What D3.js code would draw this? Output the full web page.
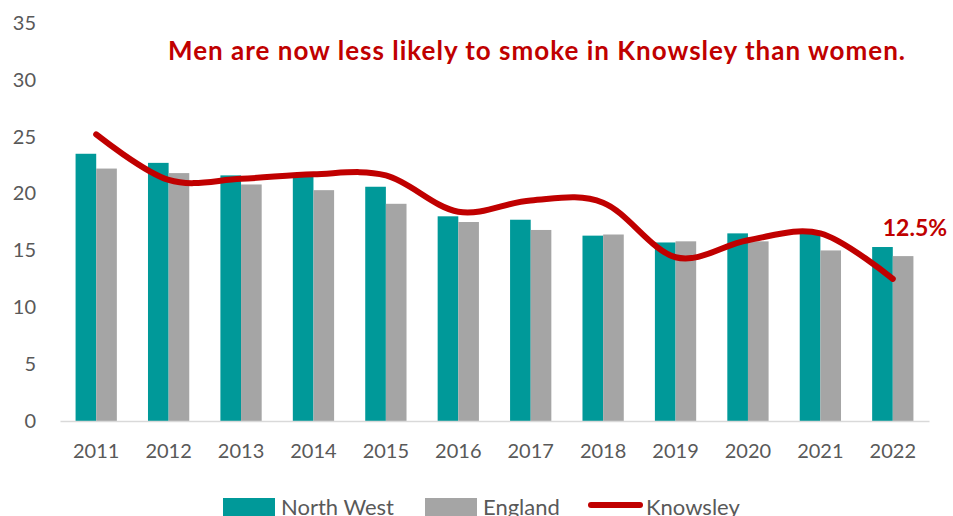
<!DOCTYPE html>
<html>
<head>
<meta charset="utf-8">
<script src="https://cdn.jsdelivr.net/npm/d3@7/dist/d3.min.js"></script>
<style>
  html, body { margin: 0; padding: 0; background: #fff; }
  svg { display: block; }
</style>
</head>
<body>
<svg id="chart" width="953" height="516"></svg>
<script>
// Smoking prevalence (%) by year
const years = ["2011","2012","2013","2014","2015","2016","2017","2018","2019","2020","2021","2022"];
const northWest = [23.5, 22.7, 21.6, 21.8, 20.6, 18.0, 17.7, 16.3, 15.7, 16.5, 16.5, 15.3];
const england   = [22.2, 21.8, 20.8, 20.3, 19.1, 17.5, 16.8, 16.4, 15.8, 15.8, 15.0, 14.5];
const knowsley  = [25.2, 21.2, 21.3, 21.7, 21.6, 18.4, 19.4, 19.2, 14.4, 15.9, 16.5, 12.5];
const yTicks = [0, 5, 10, 15, 20, 25, 30, 35];
const seriesNames = ["North West", "England", "Knowsley"];
const title = "Men are now less likely to smoke in Knowsley than women.";

const colors = { nw: "#009999", eng: "#A5A5A5", kn: "#C00000", text: "#595959", axis: "#D9D9D9" };
const font = "Lato, 'Open Sans', sans-serif";

const svg = d3.select("#chart");
const plot = { left: 60, right: 929, top: 23, bottom: 421 };

const x = d3.scaleBand().domain(years).range([plot.left, plot.right]).paddingInner(0.43).paddingOuter(0.215);
const xs = d3.scaleBand().domain(["nw", "eng"]).range([0, x.bandwidth()]);
const y = d3.scaleLinear().domain([0, 35]).range([plot.bottom, plot.top]);

// Y axis labels (no line, no gridlines)
const yAxis = d3.axisLeft(y).tickValues(yTicks).tickSize(0).tickPadding(0);
svg.append("g")
  .attr("transform", `translate(36,0)`)
  .call(yAxis)
  .call(g => g.select(".domain").remove())
  .call(g => g.selectAll("text").attr("fill", colors.text).style("font-family", font).style("font-size", "20px"));

// Bars
const groups = svg.append("g").selectAll("g").data(years).join("g")
  .attr("transform", d => `translate(${x(d)},0)`);

groups.append("rect")
  .attr("x", xs("nw")).attr("width", xs.bandwidth())
  .attr("y", (d, i) => y(northWest[i]))
  .attr("height", (d, i) => y(0) - y(northWest[i]))
  .attr("fill", colors.nw);

groups.append("rect")
  .attr("x", xs("eng")).attr("width", xs.bandwidth())
  .attr("y", (d, i) => y(england[i]))
  .attr("height", (d, i) => y(0) - y(england[i]))
  .attr("fill", colors.eng);

// X axis
const xAxis = d3.axisBottom(x).tickSize(0).tickPadding(23);
svg.append("g")
  .attr("transform", `translate(0,${plot.bottom})`)
  .call(xAxis)
  .call(g => g.select(".domain").attr("stroke", colors.axis).attr("stroke-width", 1.5))
  .call(g => g.selectAll("text").attr("fill", colors.text).style("font-family", font).style("font-size", "20px"));

// Knowsley smoothed line
const line = d3.line()
  .x((d, i) => x(years[i]) + x.bandwidth() / 2)
  .y(d => y(d))
  .curve(d3.curveCardinal.tension(0));

svg.append("path")
  .datum(knowsley)
  .attr("d", line)
  .attr("fill", "none")
  .attr("stroke", colors.kn)
  .attr("stroke-width", 6)
  .attr("stroke-linecap", "round")
  .attr("stroke-linejoin", "round");

// Final value label
const lastIdx = knowsley.length - 1;
svg.append("text")
  .attr("x", x(years[lastIdx]) + x.bandwidth() / 2 - 10)
  .attr("y", y(knowsley[lastIdx]) - 43)
  .attr("fill", colors.kn)
  .style("font-family", font)
  .style("font-size", "23px")
  .style("font-weight", "bold")
  .text(d3.format(".1f")(knowsley[lastIdx]) + "%");

// Title
svg.append("text")
  .attr("x", 168)
  .attr("y", 60)
  .attr("textLength", 737)
  .attr("lengthAdjust", "spacing")
  .attr("fill", colors.kn)
  .style("font-family", font)
  .style("font-size", "26px")
  .style("font-weight", "bold")
  .text(title);

// Legend
const legend = svg.append("g").attr("transform", "translate(0,507)");
const leg = [
  { name: seriesNames[0], type: "rect", color: colors.nw, x: 223 },
  { name: seriesNames[1], type: "rect", color: colors.eng, x: 425 },
  { name: seriesNames[2], type: "line", color: colors.kn, x: 588 }
];
leg.forEach(l => {
  if (l.type === "rect") {
    legend.append("rect").attr("x", l.x).attr("y", -9).attr("width", 52).attr("height", 20).attr("fill", l.color);
  } else {
    legend.append("line").attr("x1", l.x + 3).attr("x2", l.x + 52).attr("y1", -2).attr("y2", -2)
      .attr("stroke", l.color).attr("stroke-width", 6).attr("stroke-linecap", "round");
  }
  legend.append("text")
    .attr("x", l.x + 58).attr("y", 0).attr("dy", "0.35em")
    .attr("fill", colors.text)
    .style("font-family", font).style("font-size", "22px")
    .text(l.name);
});
</script>
</body>
</html>
